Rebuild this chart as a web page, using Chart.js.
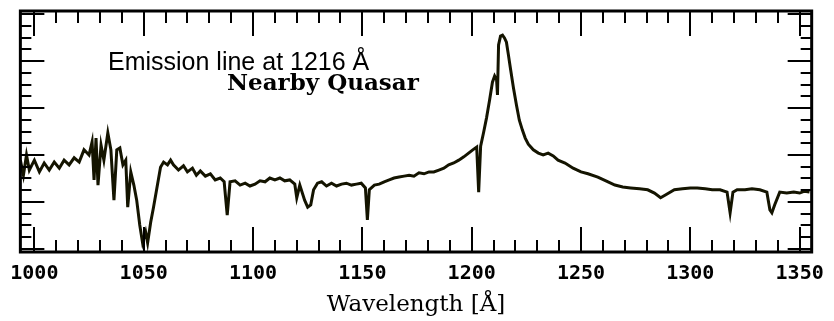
<!DOCTYPE html>
<html>
<head>
<meta charset="utf-8">
<script src="https://cdn.jsdelivr.net/npm/chart.js@4"></script>
<style>
  html, body { margin: 0; padding: 0; background: #fff; }
  #wrap { width: 834px; height: 321px; }
</style>
</head>
<body>
<div id="wrap"><canvas id="spec"></canvas></div>
<script>
// quasar spectrum (flux in arbitrary units)
const wavelength = [
  993.6, 995.0, 996.4, 997.7, 1000.0, 1002.3, 1004.5, 1006.8, 1009.1, 1011.4,
  1013.6, 1015.9, 1018.2, 1020.5, 1022.7, 1025.0, 1026.4, 1027.3, 1028.2, 1029.1,
  1030.5, 1031.8, 1033.6, 1035.0, 1036.4, 1037.7, 1039.1, 1040.5, 1041.8, 1042.7,
  1044.1, 1045.5, 1046.8, 1048.2, 1049.5, 1050.9, 1051.8, 1053.2, 1054.5, 1055.9,
  1057.7, 1059.1, 1060.9, 1062.3, 1063.6, 1065.9, 1068.2, 1070.0, 1072.3, 1074.1,
  1075.9, 1078.2, 1080.5, 1082.7, 1085.0, 1086.8, 1088.2, 1089.5, 1091.8, 1094.1,
  1096.4, 1098.6, 1100.9, 1103.2, 1105.5, 1107.7, 1110.0, 1112.3, 1114.5, 1116.8,
  1119.1, 1120.0, 1121.4, 1123.6, 1125.0, 1126.4, 1127.7, 1129.5, 1131.4, 1133.6,
  1135.9, 1138.2, 1140.5, 1142.7, 1145.0, 1147.3, 1149.5, 1151.4, 1152.3, 1153.2,
  1155.5, 1157.7, 1160.0, 1162.3, 1164.5, 1166.8, 1169.1, 1171.4, 1173.6, 1175.9,
  1178.2, 1180.5, 1182.7, 1185.0, 1187.3, 1189.5, 1191.8, 1194.1, 1196.4, 1198.6,
  1200.5, 1202.3, 1203.2, 1204.1, 1205.5, 1206.8, 1208.2, 1209.5, 1210.5, 1211.4,
  1211.8, 1212.3, 1213.2, 1214.1, 1215.0, 1215.9, 1216.8, 1217.7, 1219.1, 1220.5,
  1221.8, 1223.2, 1224.5, 1225.9, 1228.2, 1230.5, 1232.7, 1235.0, 1237.3, 1239.5,
  1242.7, 1246.4, 1250.0, 1253.2, 1257.7, 1261.4, 1265.5, 1269.1, 1272.7, 1276.8,
  1280.5, 1283.6, 1286.4, 1288.6, 1292.7, 1296.4, 1300.0, 1303.2, 1306.8, 1310.0,
  1313.6, 1316.8, 1318.2, 1319.5, 1321.4, 1325.0, 1328.2, 1331.8, 1335.0, 1336.4,
  1337.3, 1338.6, 1340.9, 1344.1, 1347.3, 1350.0, 1352.3, 1354.5
];
const flux = [
  1.89, 1.57, 2.00, 1.68, 1.89, 1.64, 1.83, 1.68, 1.85, 1.72,
  1.89, 1.79, 1.94, 1.85, 2.11, 2.00, 2.28, 1.47, 2.36, 1.36,
  2.21, 1.89, 2.47, 2.11, 1.04, 2.11, 2.15, 1.79, 1.89, 0.89,
  1.64, 1.36, 1.04, 0.51, 0.13, 0.36, 0.13, 0.57, 0.89, 1.26,
  1.74, 1.85, 1.79, 1.89, 1.79, 1.68, 1.77, 1.64, 1.72, 1.57,
  1.66, 1.55, 1.60, 1.47, 1.51, 1.43, 0.72, 1.43, 1.45, 1.36,
  1.40, 1.34, 1.38, 1.45, 1.43, 1.51, 1.47, 1.51, 1.45, 1.47,
  1.38, 1.09, 1.36, 1.04, 0.89, 0.94, 1.26, 1.40, 1.43, 1.34,
  1.40, 1.34, 1.38, 1.40, 1.36, 1.38, 1.40, 1.30, 0.62, 1.26,
  1.36, 1.38, 1.43, 1.47, 1.51, 1.53, 1.55, 1.57, 1.55, 1.62,
  1.60, 1.64, 1.64, 1.68, 1.72, 1.79, 1.83, 1.89, 1.96, 2.04,
  2.11, 2.17, 1.21, 2.19, 2.49, 2.79, 3.17, 3.55, 3.68, 3.60,
  3.28, 4.34, 4.53, 4.55, 4.49, 4.40, 4.13, 3.85, 3.43, 3.06,
  2.74, 2.53, 2.36, 2.23, 2.11, 2.04, 2.00, 2.04, 1.98, 1.89,
  1.83, 1.72, 1.64, 1.60, 1.53, 1.45, 1.36, 1.32, 1.30, 1.28,
  1.26, 1.19, 1.09, 1.15, 1.26, 1.28, 1.30, 1.30, 1.28, 1.26,
  1.26, 1.21, 0.77, 1.21, 1.26, 1.26, 1.28, 1.26, 1.21, 0.83,
  0.77, 0.94, 1.21, 1.19, 1.21, 1.19, 1.23, 1.21
];
const xLabels = [1000, 1050, 1100, 1150, 1200, 1250, 1300, 1350];
const annoLine = 'Emission line at 1216 Å';
const annoTitle = 'Nearby Quasar';
const axisTitle = 'Wavelength [Å]';

const points = wavelength.map((w, i) => ({ x: w, y: flux[i] }));

// frame + inward tick marks on all four sides
const frameTicks = {
  id: 'frameTicks',
  afterDatasetsDraw(chart) {
    const { ctx, chartArea: a, scales } = chart;
    ctx.save();
    ctx.strokeStyle = '#000';
    ctx.lineWidth = 2;
    ctx.beginPath();
    scales.x.ticks.forEach(t => {
      const px = Math.round(scales.x.getPixelForValue(t.value));
      const len = xLabels.includes(Math.round(t.value)) ? 25 : 12;
      ctx.moveTo(px, a.bottom); ctx.lineTo(px, a.bottom - len);
      ctx.moveTo(px, a.top); ctx.lineTo(px, a.top + len);
    });
    scales.y.ticks.forEach(t => {
      const py = Math.round(scales.y.getPixelForValue(t.value));
      const len = Math.abs(t.value - Math.round(t.value)) < 1e-6 ? 24 : 11;
      ctx.moveTo(a.left, py); ctx.lineTo(a.left + len, py);
      ctx.moveTo(a.right, py); ctx.lineTo(a.right - len, py);
    });
    ctx.stroke();
    ctx.lineWidth = 3;
    ctx.strokeRect(a.left, a.top, a.right - a.left, a.bottom - a.top);
    ctx.restore();
  }
};

const labelsPlugin = {
  id: 'labelsPlugin',
  afterDraw(chart) {
    const ctx = chart.ctx;
    ctx.save();
    ctx.fillStyle = '#000';
    ctx.textBaseline = 'alphabetic';
    ctx.font = '25px "Liberation Sans"';
    ctx.fillText(annoLine, 108, 70);
    ctx.font = 'bold 23px "DejaVu Serif"';
    ctx.fillText(annoTitle, 227, 90);
    ctx.restore();
  }
};

new Chart(document.getElementById('spec'), {
  type: 'line',
  data: {
    datasets: [{
      data: points,
      borderColor: '#141400',
      borderWidth: 3,
      pointRadius: 0,
      tension: 0,
      fill: false
    }]
  },
  options: {
    responsive: true,
    maintainAspectRatio: false,
    animation: false,
    events: [],
    layout: { padding: { left: 19, right: 19, top: 11, bottom: 0 } },
    plugins: { legend: { display: false }, tooltip: { enabled: false } },
    scales: {
      x: {
        type: 'linear',
        min: 993.6,
        max: 1355.5,
        afterFit: s => { s.height = 69; },
        grid: { display: false, drawTicks: false },
        border: { display: false },
        ticks: {
          stepSize: 10,
          includeBounds: false,
          autoSkip: false,
          maxRotation: 0,
          padding: 10,
          color: '#000',
          font: { family: '"DejaVu Sans Mono"', size: 20, weight: 'bold' },
          callback: v => xLabels.includes(Math.round(v)) ? String(Math.round(v)) : ''
        },
        title: {
          display: true,
          text: axisTitle,
          color: '#000',
          font: { family: '"DejaVu Serif"', size: 23 },
          padding: { top: 0, bottom: 2 }
        }
      },
      y: {
        min: -0.064,
        max: 5.064,
        afterFit: s => { s.width = 0; },
        grid: { display: false, drawTicks: false },
        border: { display: false },
        ticks: { display: false, stepSize: 0.25, includeBounds: false }
      }
    }
  },
  plugins: [frameTicks, labelsPlugin]
});
</script>
</body>
</html>
